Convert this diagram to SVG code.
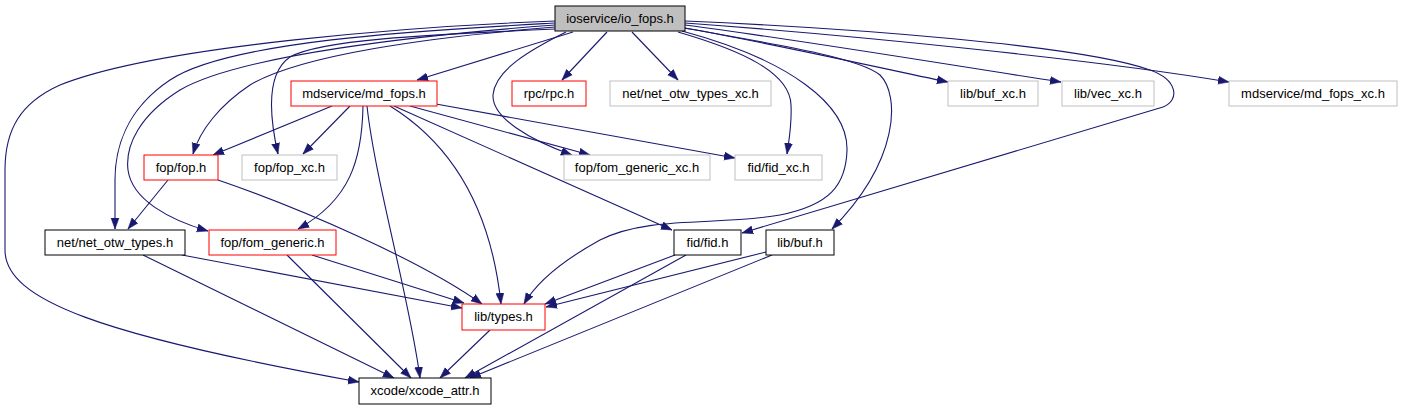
<svg xmlns="http://www.w3.org/2000/svg" width="1403" height="411" viewBox="0 0 1403 411">
<defs>
<style>
.bg{fill:#ffffff}
.n rect{fill:#ffffff;stroke-width:1}
.root rect{fill:#bfbfbf;stroke:#000000}
.red rect{stroke:#ff0000}
.gray rect{stroke:#bfbfbf}
.blk rect{stroke:#000000}
.n text{font-family:"Liberation Sans",Arial,Helvetica,sans-serif;font-size:13px;fill:#000000;text-anchor:middle}
.e path{fill:none;stroke:#191970;stroke-width:1.1;marker-end:url(#arr)}
</style>
<marker id="arr" markerUnits="userSpaceOnUse" markerWidth="12" markerHeight="10" refX="11" refY="5" orient="auto">
<path d="M0,1 L11,5 L0,9 Z" fill="#191970" stroke="#191970" stroke-width="0.5"/>
</marker>
</defs>
<rect class="bg" x="0" y="0" width="1403" height="411"/>
<g id="edges" class="e">
<path d="M573,32 L417,80"/>
<path d="M607,32 L562,80"/>
<path d="M632,32 L678,80"/>
<path d="M678,32 C740,50 790,72 791,105 C792,125 789,140 787,154"/>
<path d="M685,28 C780,45 880,68 948,82"/>
<path d="M685,25 C800,40 950,65 1061,82"/>
<path d="M685,23 C850,35 1100,60 1229,82"/>
<path d="M685,21 C850,28 1080,45 1150,70 C1178,80 1180,100 1163,107 L742,233"/>
<path d="M684,28 C780,45 860,58 880,75 C900,95 900,160 832,229"/>
<path d="M682,31 C790,60 848,105 847,150 C846,185 830,205 780,215 C720,226 650,215 600,240 C560,262 535,285 524,304"/>
<path d="M555,21 C420,26 160,45 60,85 C20,103 5,130 5,170 L5,250 C5,300 100,335 359,382"/>
<path d="M555,23 C430,30 230,40 170,80 C125,110 115,150 115,180 L115,229"/>
<path d="M555,25 C420,35 240,55 180,90 C140,115 125,145 128,170 C132,200 170,220 208,231"/>
<path d="M555,27 C430,37 300,55 250,85 C220,105 200,130 193,154"/>
<path d="M556,29 C420,35 320,40 290,57 C268,72 268,110 278,154"/>
<path d="M566,32 C530,50 495,70 493,95 C492,118 530,140 572,155"/>
<path d="M332,106 L213,155"/>
<path d="M350,106 L303,154"/>
<path d="M363,106 C362,160 350,200 298,229"/>
<path d="M367,106 C375,180 410,300 420,378"/>
<path d="M390,106 C445,140 490,200 501,304"/>
<path d="M394,106 L672,230"/>
<path d="M410,106 L590,155"/>
<path d="M436,104 L735,158"/>
<path d="M168,180 L128,229"/>
<path d="M218,180 C300,208 420,260 482,304"/>
<path d="M182,255 L462,308"/>
<path d="M143,255 L394,378"/>
<path d="M312,255 L464,303"/>
<path d="M287,255 L411,378"/>
<path d="M490,330 L440,378"/>
<path d="M675,255 L545,304"/>
<path d="M686,255 L465,378"/>
<path d="M766,252 L546,307"/>
<path d="M772,255 L470,378"/>
</g>
<g id="io_fops" class="n root"><rect x="555" y="6" width="130" height="25"/><text x="620" y="22.5">ioservice/io_fops.h</text></g>
<g id="md_fops" class="n red"><rect x="291" y="81" width="146" height="25"/><text x="364" y="97.5">mdservice/md_fops.h</text></g>
<g id="rpc" class="n red"><rect x="512" y="81" width="74" height="25"/><text x="549" y="97.5">rpc/rpc.h</text></g>
<g id="net_otw_types_xc" class="n gray"><rect x="610" y="81" width="161" height="25"/><text x="690.5" y="97.5">net/net_otw_types_xc.h</text></g>
<g id="buf_xc" class="n gray"><rect x="948" y="81" width="90" height="25"/><text x="993" y="97.5">lib/buf_xc.h</text></g>
<g id="vec_xc" class="n gray"><rect x="1062" y="81" width="92" height="25"/><text x="1108" y="97.5">lib/vec_xc.h</text></g>
<g id="md_fops_xc" class="n gray"><rect x="1229" y="81" width="168" height="25"/><text x="1313" y="97.5">mdservice/md_fops_xc.h</text></g>
<g id="fop" class="n red"><rect x="144" y="155" width="74" height="25"/><text x="181" y="171.5">fop/fop.h</text></g>
<g id="fop_xc" class="n gray"><rect x="242" y="155" width="95" height="25"/><text x="289.5" y="171.5">fop/fop_xc.h</text></g>
<g id="fom_generic_xc" class="n gray"><rect x="564" y="155" width="146" height="25"/><text x="637" y="171.5">fop/fom_generic_xc.h</text></g>
<g id="fid_xc" class="n gray"><rect x="735" y="155" width="87" height="25"/><text x="778.5" y="171.5">fid/fid_xc.h</text></g>
<g id="net_otw_types" class="n blk"><rect x="45" y="230" width="140" height="25"/><text x="115" y="246.5">net/net_otw_types.h</text></g>
<g id="fom_generic" class="n red"><rect x="209" y="230" width="127" height="25"/><text x="272.5" y="246.5">fop/fom_generic.h</text></g>
<g id="fid" class="n blk"><rect x="674" y="230" width="67" height="25"/><text x="707.5" y="246.5">fid/fid.h</text></g>
<g id="buf" class="n blk"><rect x="766" y="230" width="68" height="25"/><text x="800" y="246.5">lib/buf.h</text></g>
<g id="types" class="n red"><rect x="462" y="304" width="83" height="26"/><text x="503.5" y="321">lib/types.h</text></g>
<g id="xcode_attr" class="n blk"><rect x="359" y="378" width="132" height="26"/><text x="425" y="395">xcode/xcode_attr.h</text></g>
</svg>
